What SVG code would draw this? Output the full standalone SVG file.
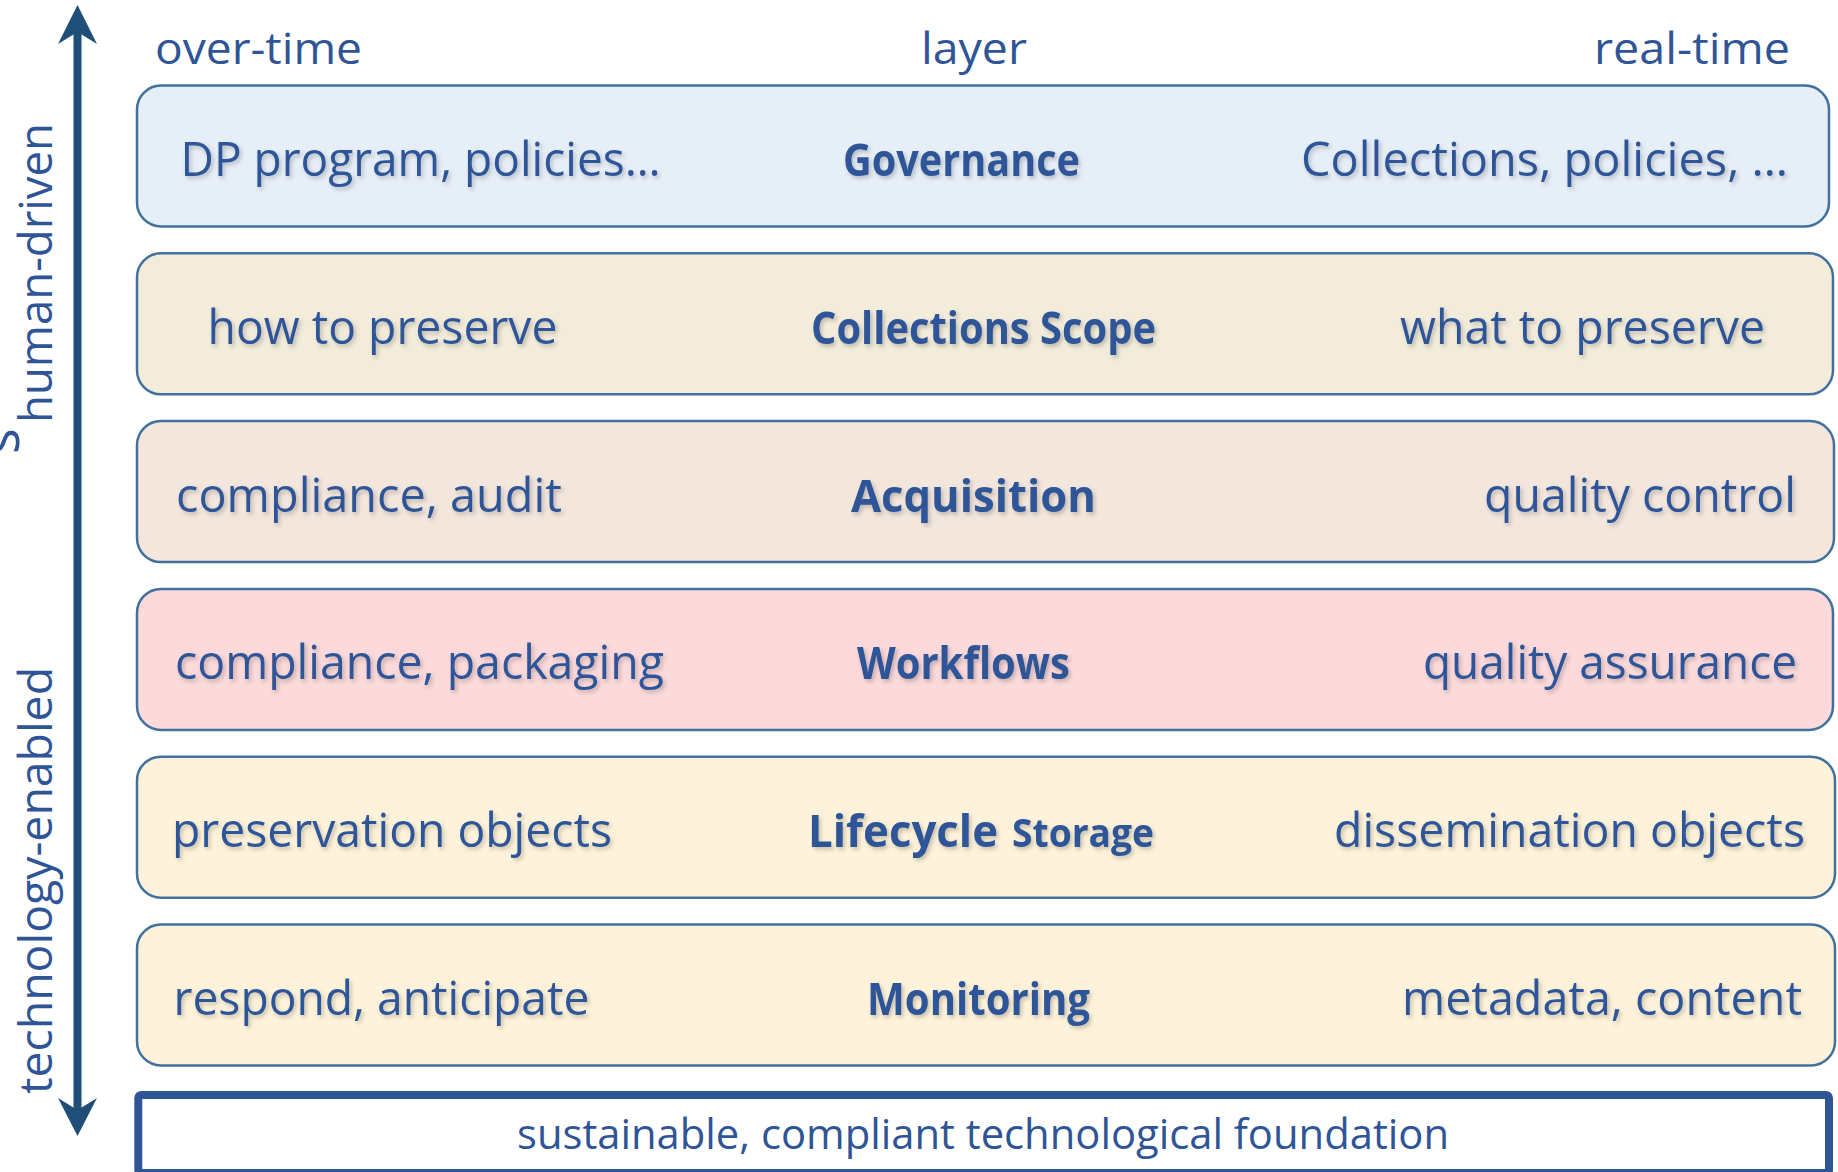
<svg xmlns="http://www.w3.org/2000/svg" width="1838" height="1172" viewBox="0 0 1838 1172">
<style>
.t{font-family:"Open Sans","Noto Sans","Liberation Sans",sans-serif;fill:#2F5597;}
.r{font-size:47px;}
.b{font-size:44px;font-weight:700;}
.h{font-size:44px;}
.box{stroke:#41719C;stroke-width:2.5;}
</style>
<defs>
<filter id="sh" x="-5%" y="-30%" width="110%" height="160%">
<feDropShadow dx="2" dy="2.5" stdDeviation="2" flood-color="#000" flood-opacity="0.22"/>
</filter>
</defs>
<rect width="1838" height="1172" fill="#ffffff"/>

<g id="axis">
<line x1="77.5" y1="30" x2="77.5" y2="1112" stroke="#1F4E79" stroke-width="8"/>
<path d="M77.5 5 L97 44 L77.5 32 L58 44 Z" fill="#1F4E79"/>
<path d="M77.5 1136 L97 1098 L77.5 1110 L58 1098 Z" fill="#1F4E79"/>
<text class="t" font-size="46" transform="translate(52,423) rotate(-90)" textLength="300" lengthAdjust="spacingAndGlyphs">human-driven</text>
<text class="t" font-size="54" transform="translate(19,454) rotate(-90)">s</text>
<text class="t" font-size="46" transform="translate(52,1094) rotate(-90)" textLength="427" lengthAdjust="spacingAndGlyphs">technology-enabled</text>
</g>

<g id="headers">
<text class="t h" x="155" y="64" textLength="207" lengthAdjust="spacingAndGlyphs">over-time</text>
<text class="t h" x="921" y="64" textLength="106" lengthAdjust="spacingAndGlyphs">layer</text>
<text class="t h" x="1594" y="64" textLength="196" lengthAdjust="spacingAndGlyphs">real-time</text>
</g>

<g id="governance">
<rect class="box" x="137" y="85.5" width="1692" height="141" rx="24" fill="#E6EEF7"/>
<g filter="url(#sh)">
<text class="t r" x="180.5" y="176" textLength="480" lengthAdjust="spacingAndGlyphs">DP program, policies…</text>
<text class="t b" x="843" y="176" textLength="237" lengthAdjust="spacingAndGlyphs">Governance</text>
<text class="t r" x="1301" y="176" textLength="487" lengthAdjust="spacingAndGlyphs">Collections, policies, …</text>
</g>
</g>

<g id="collections-scope">
<rect class="box" x="137" y="253.3" width="1696" height="141" rx="24" fill="#F3ECDB"/>
<g filter="url(#sh)">
<text class="t r" x="207.5" y="343.8" textLength="350" lengthAdjust="spacingAndGlyphs">how to preserve</text>
<text class="t b" x="811" y="343.8" textLength="345" lengthAdjust="spacingAndGlyphs">Collections Scope</text>
<text class="t r" x="1400" y="343.8" textLength="365" lengthAdjust="spacingAndGlyphs">what to preserve</text>
</g>
</g>

<g id="acquisition">
<rect class="box" x="137" y="421.1" width="1697" height="141" rx="24" fill="#F3E6DC"/>
<g filter="url(#sh)">
<text class="t r" x="176" y="511.6" textLength="386" lengthAdjust="spacingAndGlyphs">compliance, audit</text>
<text class="t b" x="851" y="511.6" textLength="245" lengthAdjust="spacingAndGlyphs">Acquisition</text>
<text class="t r" x="1484" y="511.6" textLength="312" lengthAdjust="spacingAndGlyphs">quality control</text>
</g>
</g>

<g id="workflows">
<rect class="box" x="137" y="588.9" width="1696" height="141" rx="24" fill="#FCD9DA"/>
<g filter="url(#sh)">
<text class="t r" x="175" y="679.4" textLength="489" lengthAdjust="spacingAndGlyphs">compliance, packaging</text>
<text class="t b" x="857" y="679.4" textLength="213" lengthAdjust="spacingAndGlyphs">Workflows</text>
<text class="t r" x="1423" y="679.4" textLength="374" lengthAdjust="spacingAndGlyphs">quality assurance</text>
</g>
</g>

<g id="lifecycle-storage">
<rect class="box" x="137" y="756.7" width="1698" height="141" rx="24" fill="#FEF3DA"/>
<g filter="url(#sh)">
<text class="t r" x="172" y="847.2" textLength="440" lengthAdjust="spacingAndGlyphs">preservation objects</text>
<text class="t b" x="808" y="847.2" textLength="190" lengthAdjust="spacingAndGlyphs">Lifecycle</text>
<text class="t" font-size="39" font-weight="700" x="1012" y="847.2" textLength="142" lengthAdjust="spacingAndGlyphs">Storage</text>
<text class="t r" x="1334" y="847.2" textLength="471" lengthAdjust="spacingAndGlyphs">dissemination objects</text>
</g>
</g>

<g id="monitoring">
<rect class="box" x="137" y="924.5" width="1698" height="141" rx="24" fill="#FEF3DA"/>
<g filter="url(#sh)">
<text class="t r" x="173.5" y="1015" textLength="416" lengthAdjust="spacingAndGlyphs">respond, anticipate</text>
<text class="t b" x="867" y="1015" textLength="223" lengthAdjust="spacingAndGlyphs">Monitoring</text>
<text class="t r" x="1402" y="1015" textLength="400" lengthAdjust="spacingAndGlyphs">metadata, content</text>
</g>
</g>

<g id="foundation">
<rect x="138.3" y="1095" width="1690.7" height="78" rx="3" fill="#ffffff" stroke="#2F5597" stroke-width="8"/>
<text class="t" font-size="42" x="517" y="1149" textLength="932" lengthAdjust="spacingAndGlyphs">sustainable, compliant technological foundation</text>
</g>
</svg>
